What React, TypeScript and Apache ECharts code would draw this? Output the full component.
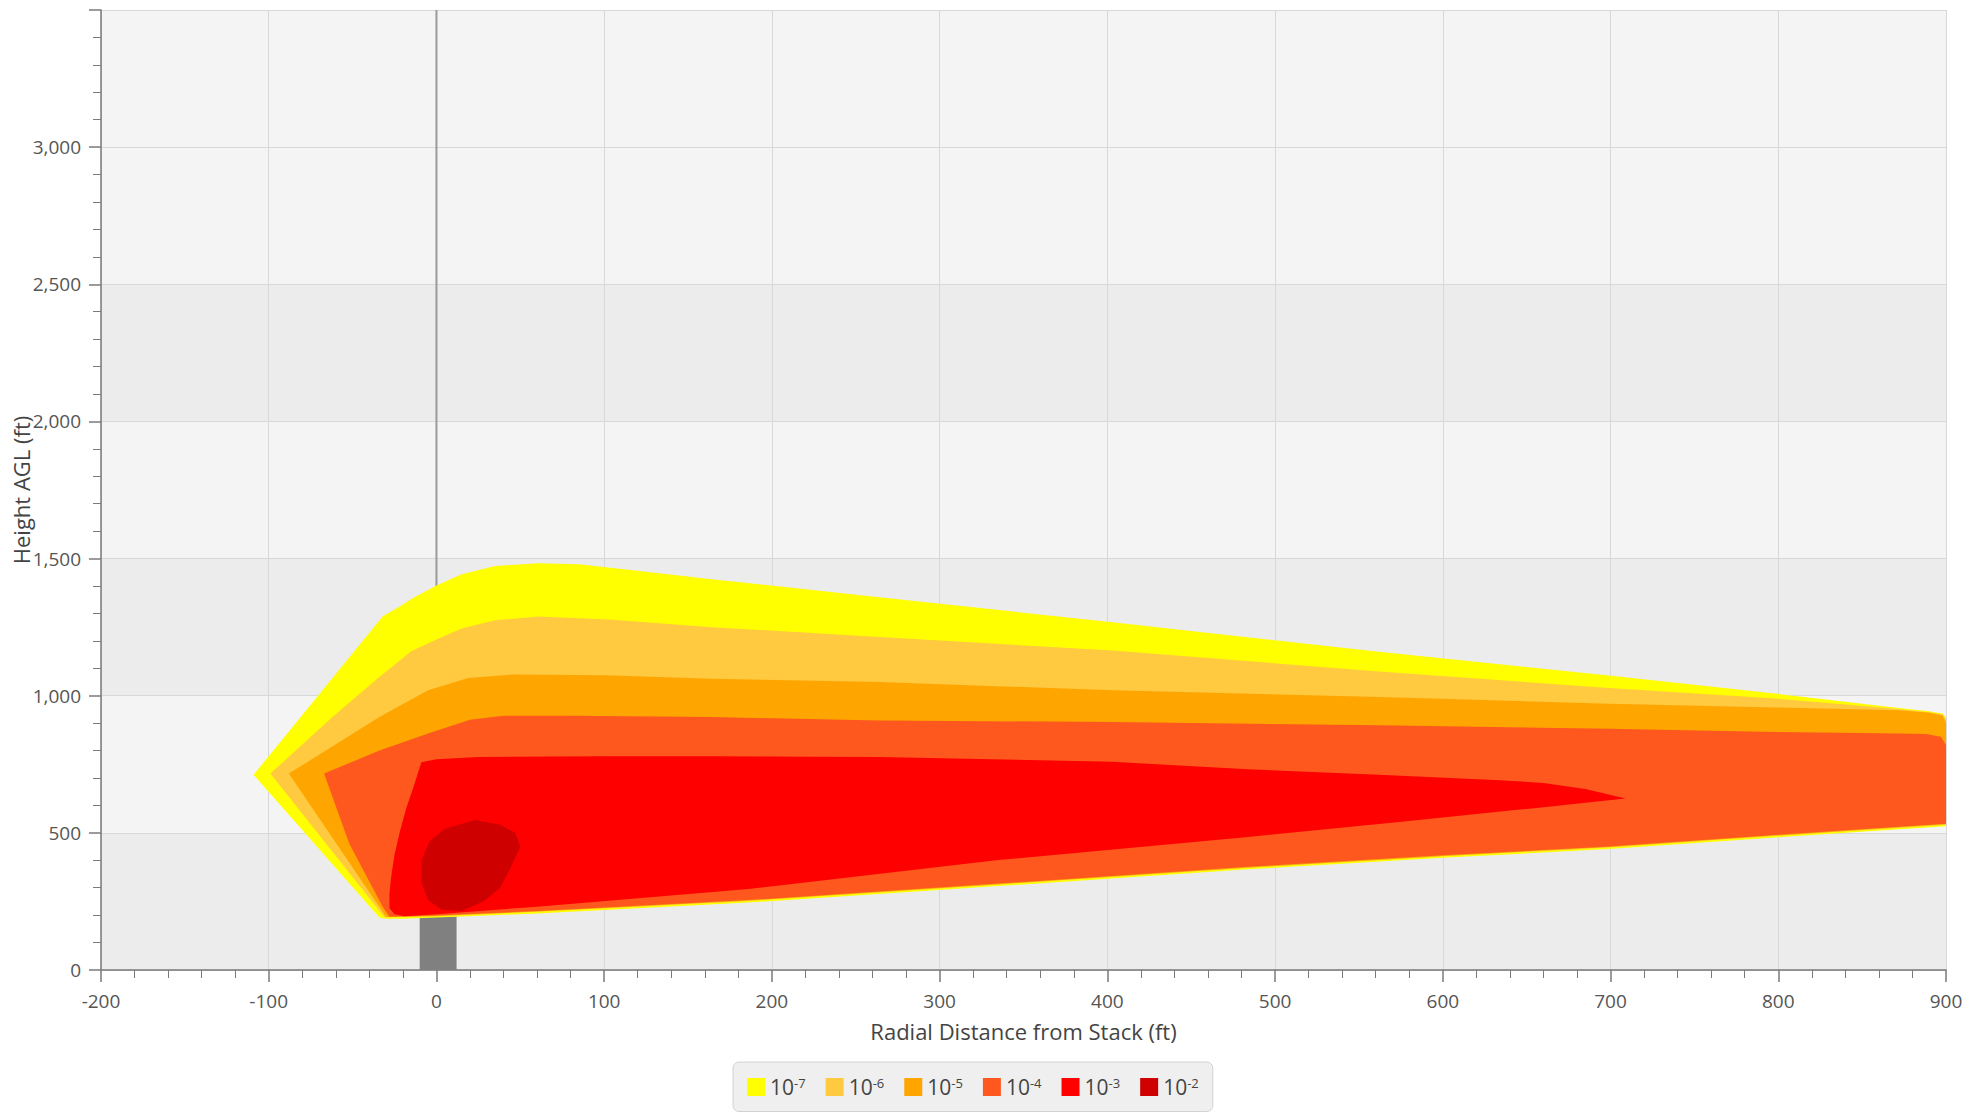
import React, { useEffect, useRef } from 'react';
import * as echarts from 'echarts';

type Pt = [number, number];

// Contour levels (exponent of 10) and their fill colours
const LEVELS = ['-7', '-6', '-5', '-4', '-3', '-2'];
const LEVEL_COLORS = ['#FFFF00', '#FFC940', '#FFA500', '#FF581E', '#FF0000', '#CF0000'];

// Contour outlines: [radial distance ft, height ft]
const CONTOUR_M7: Pt[] = [
  [-109, 712], [-32, 1290], [-22, 1325], [-14, 1356], [0, 1402], [15, 1443], [35, 1473],
  [60, 1483], [85, 1479], [125, 1452], [164, 1425], [264, 1359], [403, 1268], [562, 1160],
  [699, 1074], [798, 1008], [872, 955], [890, 943], [898, 935], [900, 920],
  [900, 524], [872, 513], [798, 483], [699, 441], [600, 409], [484, 367], [335, 306],
  [186, 246], [60, 206], [0, 191], [-20, 187], [-30, 187], [-34, 191],
];
const CONTOUR_M6: Pt[] = [
  [-99, 716], [-62, 922], [-34, 1068], [-15, 1162], [0, 1205], [15, 1245], [35, 1275],
  [61, 1289], [105, 1277], [164, 1250], [264, 1214], [403, 1165], [562, 1088], [699, 1028],
  [798, 990], [872, 952], [890, 940], [898, 932], [900, 915],
  [900, 530], [872, 519], [798, 489], [699, 447], [600, 415], [484, 373], [335, 312],
  [186, 252], [60, 212], [0, 196], [-31, 192],
];
const CONTOUR_M5: Pt[] = [
  [-88, 716], [-34, 922], [-5, 1020], [19, 1065], [45, 1077], [100, 1075], [164, 1062],
  [264, 1050], [403, 1020], [562, 995], [699, 971], [798, 957], [872, 947], [890, 938],
  [898, 928], [900, 900],
  [900, 531], [872, 520], [798, 490], [699, 448], [600, 416], [484, 374], [335, 313],
  [186, 253], [60, 213], [0, 197], [-30, 193],
];
const CONTOUR_M4: Pt[] = [
  [-67, 716], [-34, 800], [-5, 862], [20, 912], [40, 927], [80, 927], [164, 922],
  [264, 910], [403, 904], [562, 892], [699, 880], [798, 868], [872, 862], [888, 860],
  [897, 850], [900, 820],
  [900, 533], [872, 522], [798, 492], [699, 450], [600, 418], [484, 376], [335, 315],
  [186, 255], [60, 215], [0, 199], [-28, 194], [-32, 230], [-52, 461],
];
const CONTOUR_M3: Pt[] = [
  [-9, 757], [0, 768], [25, 777], [100, 779], [164, 779], [264, 777], [403, 759],
  [484, 732], [562, 712], [634, 692], [660, 682], [685, 660], [709, 625],
  [685, 610], [663, 595], [643, 583], [574, 540], [484, 485], [335, 401], [186, 295],
  [60, 231], [0, 203], [-19, 196], [-25, 203], [-28, 225], [-28, 280], [-27, 340],
  [-25, 420], [-22, 500], [-18, 590], [-13, 680],
];
const CONTOUR_M2: Pt[] = [
  [-9, 400], [-4, 470], [5, 515], [23, 547], [38, 530], [47, 500], [50, 450], [44, 370],
  [38, 300], [28, 250], [15, 215], [3, 220], [-5, 255], [-9, 320],
];
const CONTOURS: Pt[][] = [CONTOUR_M7, CONTOUR_M6, CONTOUR_M5, CONTOUR_M4, CONTOUR_M3, CONTOUR_M2];

// Stack: x range and height (ft)
const STACK_X: Pt = [-10, 12];
const STACK_HEIGHT = 195;

// Axes
const X_MIN = -200, X_MAX = 900, X_STEP = 100;
const Y_MIN = 0, Y_MAX = 3500, Y_STEP = 500;
const Y_BANDS = ['#ececec', '#f4f4f4', '#ececec', '#f4f4f4', '#ececec', '#f4f4f4', '#f4f4f4'];

const FONT = '"Open Sans", "Noto Sans", sans-serif';

export default function App() {
  const ref = useRef<HTMLDivElement>(null);

  useEffect(() => {
    document.body.style.margin = '0';
    document.body.style.overflow = 'hidden';
    const chart = echarts.init(ref.current!, null, { renderer: 'svg' });

    const contourSeries = CONTOURS.map((pts, i) => ({
      name: LEVELS[i],
      type: 'custom',
      clip: true,
      silent: true,
      z: 3 + i,
      itemStyle: { color: LEVEL_COLORS[i] },
      data: pts,
      renderItem: (params: any, api: any) => {
        if (params.dataIndex !== 0) return null;
        return {
          type: 'polygon',
          shape: { points: pts.map((p) => api.coord(p)) },
          style: { fill: LEVEL_COLORS[i] },
        };
      },
    }));

    chart.setOption({
      animation: false,
      backgroundColor: '#ffffff',
      textStyle: { fontFamily: FONT },
      grid: {
        left: 101,
        right: 20,
        top: 10,
        bottom: 145,
        containLabel: false,
        outerBoundsMode: 'none',
      },
      legend: {
        data: LEVELS,
        left: 733,
        top: 1062,
        orient: 'horizontal',
        icon: 'rect',
        itemWidth: 18,
        itemHeight: 18,
        itemGap: 20,
        padding: [14, 14],
        backgroundColor: '#efefef',
        borderColor: '#d2d2d2',
        borderWidth: 1,
        borderRadius: 6,
        selectedMode: false,
        formatter: (name: string) => `{b|10}{s|${name}}`,
        textStyle: {
          color: '#444',
          fontFamily: FONT,
          rich: {
            b: { fontSize: 21, color: '#444', fontFamily: FONT, lineHeight: 22 },
            s: { fontSize: 13, color: '#444', fontFamily: FONT, verticalAlign: 'top', lineHeight: 13 },
          },
        },
      },
      xAxis: {
        type: 'value',
        min: X_MIN,
        max: X_MAX,
        interval: X_STEP,
        name: 'Radial Distance from Stack (ft)',
        nameLocation: 'middle',
        nameGap: 50,
        nameMoveOverlap: false,
        nameTextStyle: { fontSize: 22, color: '#444', fontFamily: FONT },
        axisLine: { show: true, onZero: false, lineStyle: { color: '#7a7a7a', width: 1.5 } },
        axisTick: { show: true, length: 12, lineStyle: { color: '#7a7a7a', width: 1.5 } },
        minorTick: { show: true, splitNumber: 5, length: 8, lineStyle: { color: '#7a7a7a', width: 1 } },
        axisLabel: { fontSize: 19, color: '#555', margin: 21, fontFamily: FONT },
        splitLine: { show: true, lineStyle: { color: '#d8d8d8', width: 1 } },
      },
      yAxis: {
        type: 'value',
        min: Y_MIN,
        max: Y_MAX,
        interval: Y_STEP,
        name: 'Height AGL (ft)',
        nameLocation: 'middle',
        nameGap: 69,
        nameMoveOverlap: false,
        nameTextStyle: { fontSize: 22, color: '#444', fontFamily: FONT },
        axisLine: { show: true, onZero: false, lineStyle: { color: '#7a7a7a', width: 1.5 } },
        axisTick: { show: true, length: 12, lineStyle: { color: '#7a7a7a', width: 1.5 } },
        minorTick: { show: true, splitNumber: 5, length: 8, lineStyle: { color: '#7a7a7a', width: 1 } },
        axisLabel: {
          fontSize: 19,
          color: '#555',
          margin: 20,
          fontFamily: FONT,
          showMaxLabel: false,
          formatter: (v: number) => v.toLocaleString('en-US'),
        },
        splitLine: { show: true, lineStyle: { color: '#d8d8d8', width: 1 } },
        splitArea: { show: true, areaStyle: { color: Y_BANDS } },
      },
      series: [
        {
          name: 'zero',
          type: 'line',
          silent: true,
          symbol: 'none',
          z: 1,
          lineStyle: { color: '#9a9a9a', width: 2 },
          data: [[0, Y_MIN], [0, Y_MAX]],
        },
        {
          name: 'stack',
          type: 'custom',
          silent: true,
          z: 2,
          data: [[STACK_X[0], STACK_HEIGHT]],
          renderItem: (params: any, api: any) => {
            const tl = api.coord([STACK_X[0], STACK_HEIGHT]);
            const br = api.coord([STACK_X[1], 0]);
            return {
              type: 'rect',
              shape: { x: tl[0], y: tl[1], width: br[0] - tl[0], height: br[1] - tl[1] },
              style: { fill: '#808080' },
            };
          },
        },
        ...contourSeries,
      ],
    });

    return () => chart.dispose();
  }, []);

  return <div ref={ref} style={{ width: 1966, height: 1115 }} />;
}
